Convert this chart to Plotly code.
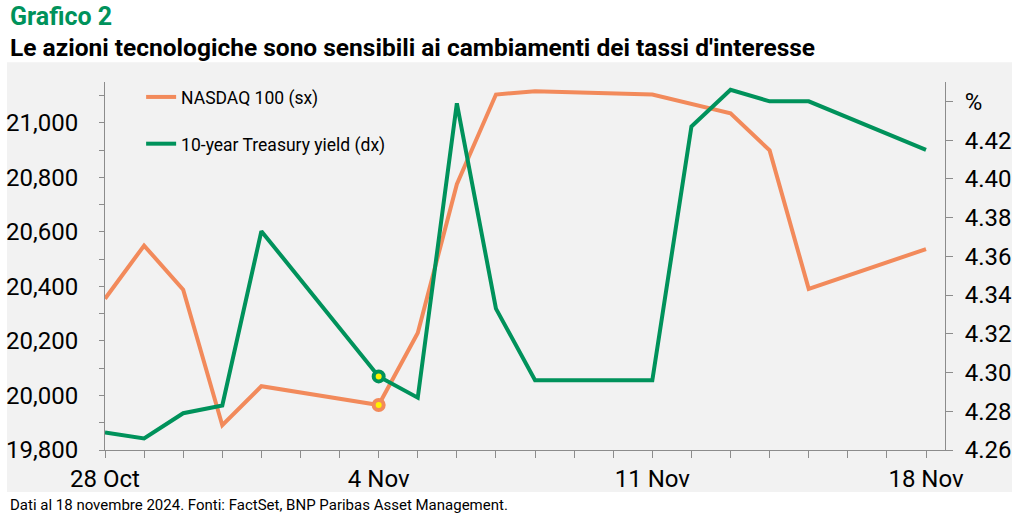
import plotly.graph_objects as go

# data
dates = ["2024-10-28", "2024-10-29", "2024-10-30", "2024-10-31", "2024-11-01",
         "2024-11-04", "2024-11-05", "2024-11-06", "2024-11-07", "2024-11-08",
         "2024-11-11", "2024-11-12", "2024-11-13", "2024-11-14", "2024-11-15",
         "2024-11-18"]
nasdaq = [20355, 20550, 20388, 19891, 20034, 19965, 20229, 20775, 21104, 21116,
          21104, 21071, 21035, 20899, 20391, 20537]
yield10 = [4.269, 4.266, 4.279, 4.283, 4.373, 4.298, 4.287, 4.439, 4.333, 4.296,
           4.296, 4.427, 4.446, 4.440, 4.440, 4.415]
highlight_date = "2024-11-04"
highlight_nasdaq = 19965
highlight_yield = 4.298

x_tickvals = ["2024-10-28", "2024-11-04", "2024-11-11", "2024-11-18"]
x_ticktext = ["28 Oct", "4 Nov", "11 Nov", "18 Nov"]
y2_tickvals = [4.26, 4.28, 4.30, 4.32, 4.34, 4.36, 4.38, 4.40, 4.42, 4.44]
y2_ticktext = ["4.26", "4.28", "4.30", "4.32", "4.34", "4.36", "4.38", "4.40", "4.42", "%"]

ORANGE = "#F28A5B"
GREEN = "#00925B"
YELLOW = "#FFF200"
AXIS = "#8C8C8C"
FONT = "Roboto"

fig = go.Figure()
fig.add_trace(go.Scatter(x=dates, y=nasdaq, mode="lines", name="NASDAQ 100 (sx)",
                         line=dict(color=ORANGE, width=4), legendgroup="a"))
fig.add_trace(go.Scatter(x=dates, y=yield10, mode="lines", name="10-year Treasury yield (dx)",
                         line=dict(color=GREEN, width=4), yaxis="y2", legendgroup="b"))
fig.add_trace(go.Scatter(x=[highlight_date], y=[highlight_nasdaq], mode="markers", showlegend=False,
                         marker=dict(size=10, color=YELLOW, line=dict(color=ORANGE, width=4))))
fig.add_trace(go.Scatter(x=[highlight_date], y=[highlight_yield], mode="markers", showlegend=False,
                         yaxis="y2",
                         marker=dict(size=10, color=YELLOW, line=dict(color=GREEN, width=4))))

fig.update_layout(
    width=1016, height=518,
    margin=dict(l=105, r=71, t=82, b=68),
    paper_bgcolor="white",
    plot_bgcolor="rgba(0,0,0,0)",
    font=dict(family=FONT, color="black"),
    showlegend=True,
    legend=dict(x=0.043, y=1.008, xanchor="left", yanchor="top", bgcolor="rgba(0,0,0,0)",
                font=dict(size=17.5), traceorder="grouped", tracegroupgap=21, itemwidth=30),
    xaxis=dict(type="date", range=["2024-10-28", "2024-11-18 11:40"], automargin=False,
               tickmode="array", tickvals=x_tickvals, ticktext=x_ticktext,
               ticks="outside", ticklen=7, tickcolor=AXIS, showline=True, linecolor=AXIS,
               showgrid=False, zeroline=False, tickfont=dict(size=24), ticklabelstandoff=0,
               minor=dict(dtick=86400000, tick0="2024-10-28", ticks="outside", ticklen=7,
                          tickcolor=AXIS, showgrid=False)),
    yaxis=dict(range=[19800, 21150], dtick=200, tickformat=",d", ticks="outside", ticklen=5,
               tickcolor=AXIS, showline=True, linecolor=AXIS, showgrid=False, zeroline=False,
               tickfont=dict(size=24), ticklabelstandoff=16, automargin=False,
               minor=dict(dtick=100, ticks="outside", ticklen=5, tickcolor=AXIS, showgrid=False)),
    yaxis2=dict(range=[4.26, 4.45], overlaying="y", side="right", tickmode="array",
                tickvals=y2_tickvals, ticktext=y2_ticktext, ticks="outside", ticklen=7,
                tickcolor=AXIS, showline=True, linecolor=AXIS, showgrid=False, zeroline=False,
                tickfont=dict(size=24), ticklabelstandoff=7, automargin=False),
    shapes=[dict(type="rect", xref="paper", yref="paper", x0=-0.1167, x1=1.0798,
                 y0=-0.114, y1=1.054, fillcolor="#F2F2F2", line=dict(width=0), layer="below")],
    annotations=[
        dict(text="<b>Grafico 2</b>", xref="paper", yref="paper", x=-0.1155, y=1.179,
             xanchor="left", yanchor="middle", showarrow=False,
             font=dict(size=25, color=GREEN, family=FONT)),
        dict(text="<b>Le azioni tecnologiche sono sensibili ai cambiamenti dei tassi d'interesse</b>",
             xref="paper", yref="paper", x=-0.1155, y=1.095, xanchor="left", yanchor="middle",
             showarrow=False, font=dict(size=24.5, color="black", family=FONT)),
        dict(text="Dati al 18 novembre 2024. Fonti: FactSet, BNP Paribas Asset Management.",
             xref="paper", yref="paper", x=-0.1155, y=-0.149, xanchor="left", yanchor="middle",
             showarrow=False, font=dict(size=15, color="black", family=FONT)),
    ],
)

# drop the default page margin so the figure sits at the window's corner
fig.write_html("out.html", config={"displayModeBar": False},
               post_script="document.body.style.margin='0';")
